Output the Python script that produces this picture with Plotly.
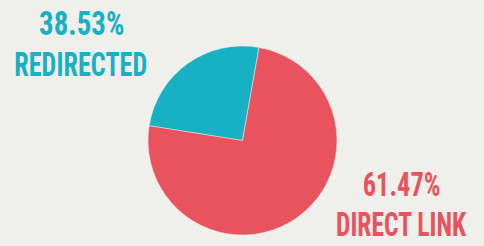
import plotly.graph_objects as go

categories = ["REDIRECTED", "DIRECT LINK"]
slice_values = [25.3, 74.7]          # wedge sizes as drawn
pct_labels = ["38.53%", "61.47%"]    # printed labels
colors = ["#17b1c3", "#e8535d"]

W, H = 484, 246
cx, cy, r = 242.5, 140.5, 94.5

fig = go.Figure(go.Pie(
    labels=categories, values=slice_values,
    marker=dict(colors=colors, line=dict(color="#efefeb", width=0.5)),
    sort=False, direction="clockwise", rotation=-81,
    textinfo="none", hoverinfo="skip", showlegend=False,
    domain=dict(x=[(cx - r) / W, (cx + r) / W], y=[1 - (cy + r) / H, 1 - (cy - r) / H]),
))

font_family = "Roboto Condensed, Open Sans Condensed, DejaVu Sans Condensed, sans-serif"
pos = [(81, 23, 64), (401, 184, 224)]
ann = []
for cat, pct, col, (x, y1, y2) in zip(categories, pct_labels, colors, pos):
    ann.append(dict(x=x / W, y=1 - y1 / H, xref="paper", yref="paper", text="<b>%s</b>" % pct,
                    showarrow=False, xanchor="center", yanchor="middle",
                    font=dict(family=font_family, size=33, color=col)))
    ann.append(dict(x=x / W, y=1 - y2 / H, xref="paper", yref="paper", text="<b>%s</b>" % cat,
                    showarrow=False, xanchor="center", yanchor="middle",
                    font=dict(family=font_family, size=33, color=col)))

fig.update_layout(width=W, height=H, margin=dict(l=0, r=0, t=0, b=0),
                  paper_bgcolor="#efefeb", plot_bgcolor="#efefeb", annotations=ann)

# narrow the condensed face further, to mimic the reference's display type
x_scales = [0.877, 0.794, 0.80, 0.775]
css = "text.annotation-text{transform-box:fill-box;transform-origin:center;}"
for i, s in enumerate(x_scales):
    css += 'g.annotation[data-index="%d"] text.annotation-text{transform:scaleX(%s);}' % (i, s)
post = ("document.body.style.margin='0';"
        "var st=document.createElement('style');st.textContent='%s';document.head.appendChild(st);" % css)
fig.write_html("out.html", post_script=post, config={"displayModeBar": False})
